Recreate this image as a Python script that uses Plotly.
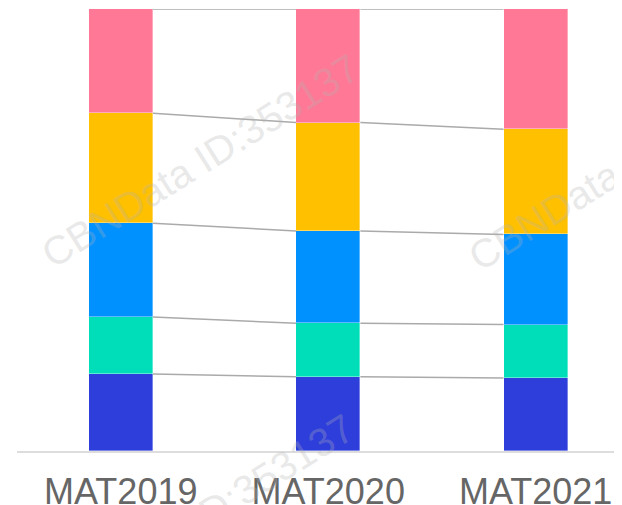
import plotly.graph_objects as go

categories = ["MAT2019", "MAT2020", "MAT2021"]
series_names = ["S1", "S2", "S3", "S4", "S5"]
seg1 = [17.4, 16.8, 16.5]   # dark blue (bottom)
seg2 = [12.9, 12.1, 12.1]   # teal
seg3 = [21.2, 20.9, 20.4]   # blue
seg4 = [24.9, 24.5, 23.8]   # yellow
seg5 = [23.6, 25.7, 27.2]   # pink (top)
series = [seg1, seg2, seg3, seg4, seg5]
colors = ["#2e3edb", "#00deb9", "#0091ff", "#ffc000", "#ff7996"]
watermark = "CBNData ID:353137"

xs = list(range(len(categories)))
bar_w = 0.31

fig = go.Figure()
for name, vals, col in zip(series_names, series, colors):
    fig.add_trace(go.Bar(x=xs, y=vals, name=name, width=bar_w,
                         marker=dict(color=col, line=dict(color="rgba(255,255,255,0.6)", width=0.6)),
                         showlegend=False, hoverinfo="skip"))

# connector lines between cumulative boundaries
cum = [0.0] * len(categories)
for vals in series:
    cum = [c + v for c, v in zip(cum, vals)]
    for i in range(len(categories) - 1):
        fig.add_trace(go.Scatter(x=[xs[i] + bar_w / 2, xs[i + 1] - bar_w / 2],
                                 y=[cum[i], cum[i + 1]], mode="lines",
                                 line=dict(color="#aaaaaa", width=1.5),
                                 showlegend=False, hoverinfo="skip", cliponaxis=False))

# page body has an 8px margin; figure is sized to fit the window
OFF = 8
FW, FH = 622 - OFF, 505 - OFF
L, T, W, H = 17 - OFF, 9 - OFF, 605, 442

def px2paper(px, py):
    # px, py are window pixel coordinates
    return (px - OFF - L) / W, (T + H - (py - OFF)) / H

for cx, cy in [(200, 161), (627, 164), (195, 521)]:
    xp, yp = px2paper(cx, cy)
    fig.add_annotation(text=watermark, x=xp, y=yp, xref="paper", yref="paper",
                       xanchor="center", yanchor="middle",
                       showarrow=False, textangle=-32,
                       font=dict(size=40, color="rgba(180,180,180,0.3)",
                                 family="Liberation Sans, Arial, sans-serif"))

fig.update_layout(
    barmode="stack", bargap=0,
    width=FW, height=FH,
    margin=dict(l=L, r=FW - L - W, t=T, b=FH - T - H),
    plot_bgcolor="white", paper_bgcolor="white",
    font=dict(family="Liberation Sans, Arial, sans-serif"),
)
fig.update_xaxes(range=[-0.5, 2.416], tickvals=xs, ticktext=categories,
                 showgrid=False, zeroline=False, showline=True, linecolor="#dddddd", linewidth=1.5,
                 ticks="outside", ticklen=8, tickcolor="rgba(0,0,0,0)",
                 tickfont=dict(size=36, color="#666666"), automargin=False)
fig.update_yaxes(range=[0, 100], showgrid=False, zeroline=False, showticklabels=False,
                 showline=False, automargin=False)

fig.write_html("out.html")
